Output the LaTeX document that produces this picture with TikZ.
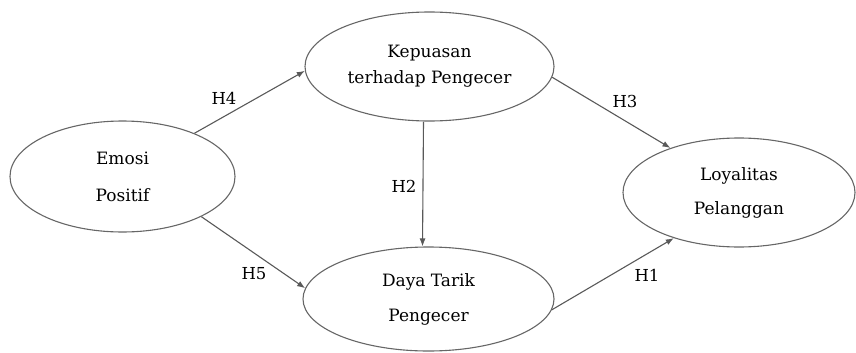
\documentclass[tikz,border=0pt]{standalone}
\usepackage{fontspec}
\setmainfont{DejaVu Serif}
\usetikzlibrary{shapes.geometric,arrows.meta}
\begin{document}
\begin{tikzpicture}[x=1pt,y=-1pt,
        var/.style={draw=black!60,line width=1.1pt,ellipse,align=center,inner sep=0pt,font=\fontsize{17}{20}\selectfont,text=black},
        hyp/.style={draw=black!65,line width=1.1pt,-{Latex[length=8pt,width=6pt]}},
        lbl/.style={font=\fontsize{16.5}{19}\selectfont,text=black}]
            \useasboundingbox (0,0) rectangle (856,353);
            \node[var,minimum width=225pt,minimum height=111pt] (emosi) at (122.5,176.5) {Emosi\\[17pt]Positif};
            \node[var,minimum width=249pt,minimum height=109pt] (kepuasan) at (429.5,66.5) {Kepuasan\\[6pt]terhadap Pengecer};
            \node[var,minimum width=251pt,minimum height=104pt] (daya) at (428.5,299) {Daya Tarik\\[15pt]Pengecer};
            \node[var,minimum width=232pt,minimum height=109pt] (loyalitas) at (739,192.5) {Loyalitas\\[14pt]Pelanggan};
            \draw[hyp] (emosi.31) -- (kepuasan.182);
            \draw[hyp] (emosi.-27) -- (daya.175);
            \draw[hyp] ([xshift=-6pt]kepuasan.south) -- ([xshift=-6pt]daya.north);
            \draw[hyp] (kepuasan.-5) -- (loyalitas.147);
            \draw[hyp] (daya.-5) -- (loyalitas.215);
            \node[lbl] (h4) at (224,98) {H4};
            \node[lbl] (h5) at (254,274) {H5};
            \node[lbl] (h2) at (404,186) {H2};
            \node[lbl] (h3) at (625,101) {H3};
            \node[lbl] (h1) at (647,275) {H1};
        \end{tikzpicture}
\end{document}
